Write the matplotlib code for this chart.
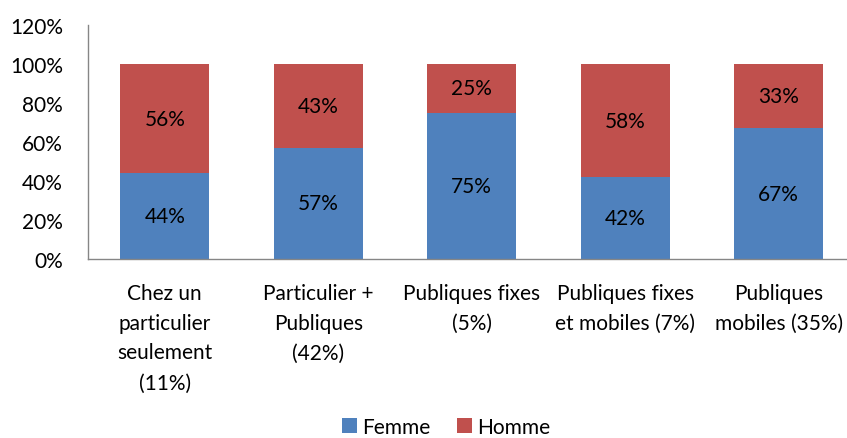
import matplotlib
matplotlib.use("Agg")
import matplotlib.pyplot as plt
from matplotlib.ticker import FuncFormatter

plt.rcParams['font.family'] = ['Lato', 'DejaVu Sans']

categories = ["Chez un\nparticulier\nseulement\n(11%)", "Particulier +\nPubliques\n(42%)",
              "Publiques fixes\n(5%)", "Publiques fixes\net mobiles (7%)", "Publiques\nmobiles (35%)"]
femme = [44, 57, 75, 42, 67]
homme = [56, 43, 25, 58, 33]
series_names = ["Femme", "Homme"]
colors = ["#4F81BD", "#C0504D"]
yticks = [0, 20, 40, 60, 80, 100, 120]

W, H = 847, 439
fig = plt.figure(figsize=(W / 100, H / 100), dpi=100)
ax = fig.add_axes([88 / W, (H - 260) / H, 767.5 / W, 234 / H])

x = list(range(len(categories)))
bw = 0.58
b1 = ax.bar(x, femme, width=bw, color=colors[0], label=series_names[0])
b2 = ax.bar(x, homme, width=bw, bottom=femme, color=colors[1], label=series_names[1])

fs = 15
for xi, f, h in zip(x, femme, homme):
    ax.text(xi, f / 2, f"{f}%", ha="center", va="center", fontsize=fs, color="black")
    ax.text(xi, f + h / 2, f"{h}%", ha="center", va="center", fontsize=fs, color="black")

ax.set_xlim(-0.5, len(categories) - 0.5)
ax.set_ylim(0, 120)
ax.set_yticks(yticks)
ax.yaxis.set_major_formatter(FuncFormatter(lambda v, p: f"{int(v)}%"))
ax.set_xticks(x)
ax.set_xticklabels(categories, fontsize=fs, linespacing=1.62)
ax.tick_params(axis="both", length=0, labelsize=fs)
ax.tick_params(axis="x", pad=17)
ax.tick_params(axis="y", pad=18)
for lbl in ax.get_yticklabels():
    lbl.set_horizontalalignment("right")

for s in ["top", "right"]:
    ax.spines[s].set_visible(False)
for s in ["left", "bottom"]:
    ax.spines[s].set_color("#868686")
    ax.spines[s].set_linewidth(1.0)

leg = fig.legend(handles=[b1, b2], labels=series_names, loc="center",
                 bbox_to_anchor=(446 / W, 1 - 428 / H), ncol=2, frameon=False,
                 fontsize=fs, handlelength=0.7, handleheight=0.7, handletextpad=0.25,
                 columnspacing=1.3, borderpad=0)

fig.savefig("out.png", dpi=100)
